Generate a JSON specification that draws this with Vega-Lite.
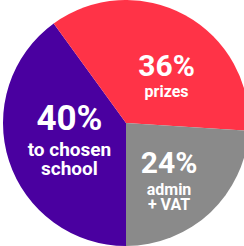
{
  "$schema": "https://vega.github.io/schema/vega-lite/v6.json",
  "width": 252,
  "height": 246,
  "padding": 0,
  "autosize": {"type": "none"},
  "background": "white",
  "config": {"view": {"stroke": null}},
  "data": {"values": [
    {"key": "school", "pct": 40, "pctText": "40%", "desc": ["to chosen", "school"], "order": 1},
    {"key": "prizes", "pct": 36, "pctText": "36%", "desc": ["prizes"], "order": 2},
    {"key": "admin", "pct": 24, "pctText": "24%", "desc": ["admin", "+ VAT"], "order": 3}
  ]},
  "encoding": {
    "theta": {"field": "pct", "type": "quantitative", "stack": true, "scale": {"range": [3.14159265, 9.42477796]}},
    "order": {"field": "order", "type": "quantitative"}
  },
  "layer": [
    {
      "mark": {"type": "arc", "outerRadius": 123},
      "encoding": {"color": {"field": "key", "type": "nominal", "scale": {"domain": ["school", "prizes", "admin"], "range": ["#4A00A0", "#FF3347", "#8A8A8A"]}, "legend": null}}
    },
    {
      "mark": {"type": "text", "radius": 62, "thetaOffset": 0.211, "font": "Roboto", "fontWeight": "bold", "fontSize": 30, "color": "white", "align": "center", "baseline": "alphabetic"},
      "encoding": {"text": {"condition": {"test": "datum.key === 'prizes'", "field": "pctText"}, "value": ""}}
    },
    {
      "mark": {"type": "text", "radius": 62, "thetaOffset": 0.211, "dy": 21, "font": "Roboto", "fontWeight": "bold", "fontSize": 16, "color": "white", "align": "center", "baseline": "alphabetic"},
      "encoding": {"text": {"condition": {"test": "datum.key === 'prizes'", "field": "desc"}, "value": ""}}
    },
    {
      "mark": {"type": "text", "radius": 57, "thetaOffset": 0.192, "font": "Roboto", "fontWeight": "bold", "fontSize": 35, "color": "white", "align": "center", "baseline": "alphabetic"},
      "encoding": {"text": {"condition": {"test": "datum.key === 'school'", "field": "pctText"}, "value": ""}}
    },
    {
      "mark": {"type": "text", "radius": 57, "thetaOffset": 0.192, "dy": 26, "lineHeight": 19, "font": "Roboto", "fontWeight": "bold", "fontSize": 19, "color": "white", "align": "center", "baseline": "alphabetic"},
      "encoding": {"text": {"condition": {"test": "datum.key === 'school'", "field": "desc"}, "value": ""}}
    },
    {
      "mark": {"type": "text", "radius": 66, "thetaOffset": 0.044, "font": "Roboto", "fontWeight": "bold", "fontSize": 30, "color": "white", "align": "center", "baseline": "alphabetic"},
      "encoding": {"text": {"condition": {"test": "datum.key === 'admin'", "field": "pctText"}, "value": ""}}
    },
    {
      "mark": {"type": "text", "radius": 66, "thetaOffset": 0.044, "dy": 22, "lineHeight": 15, "font": "Roboto", "fontWeight": "bold", "fontSize": 16, "color": "white", "align": "center", "baseline": "alphabetic"},
      "encoding": {"text": {"condition": {"test": "datum.key === 'admin'", "field": "desc"}, "value": ""}}
    }
  ]
}
